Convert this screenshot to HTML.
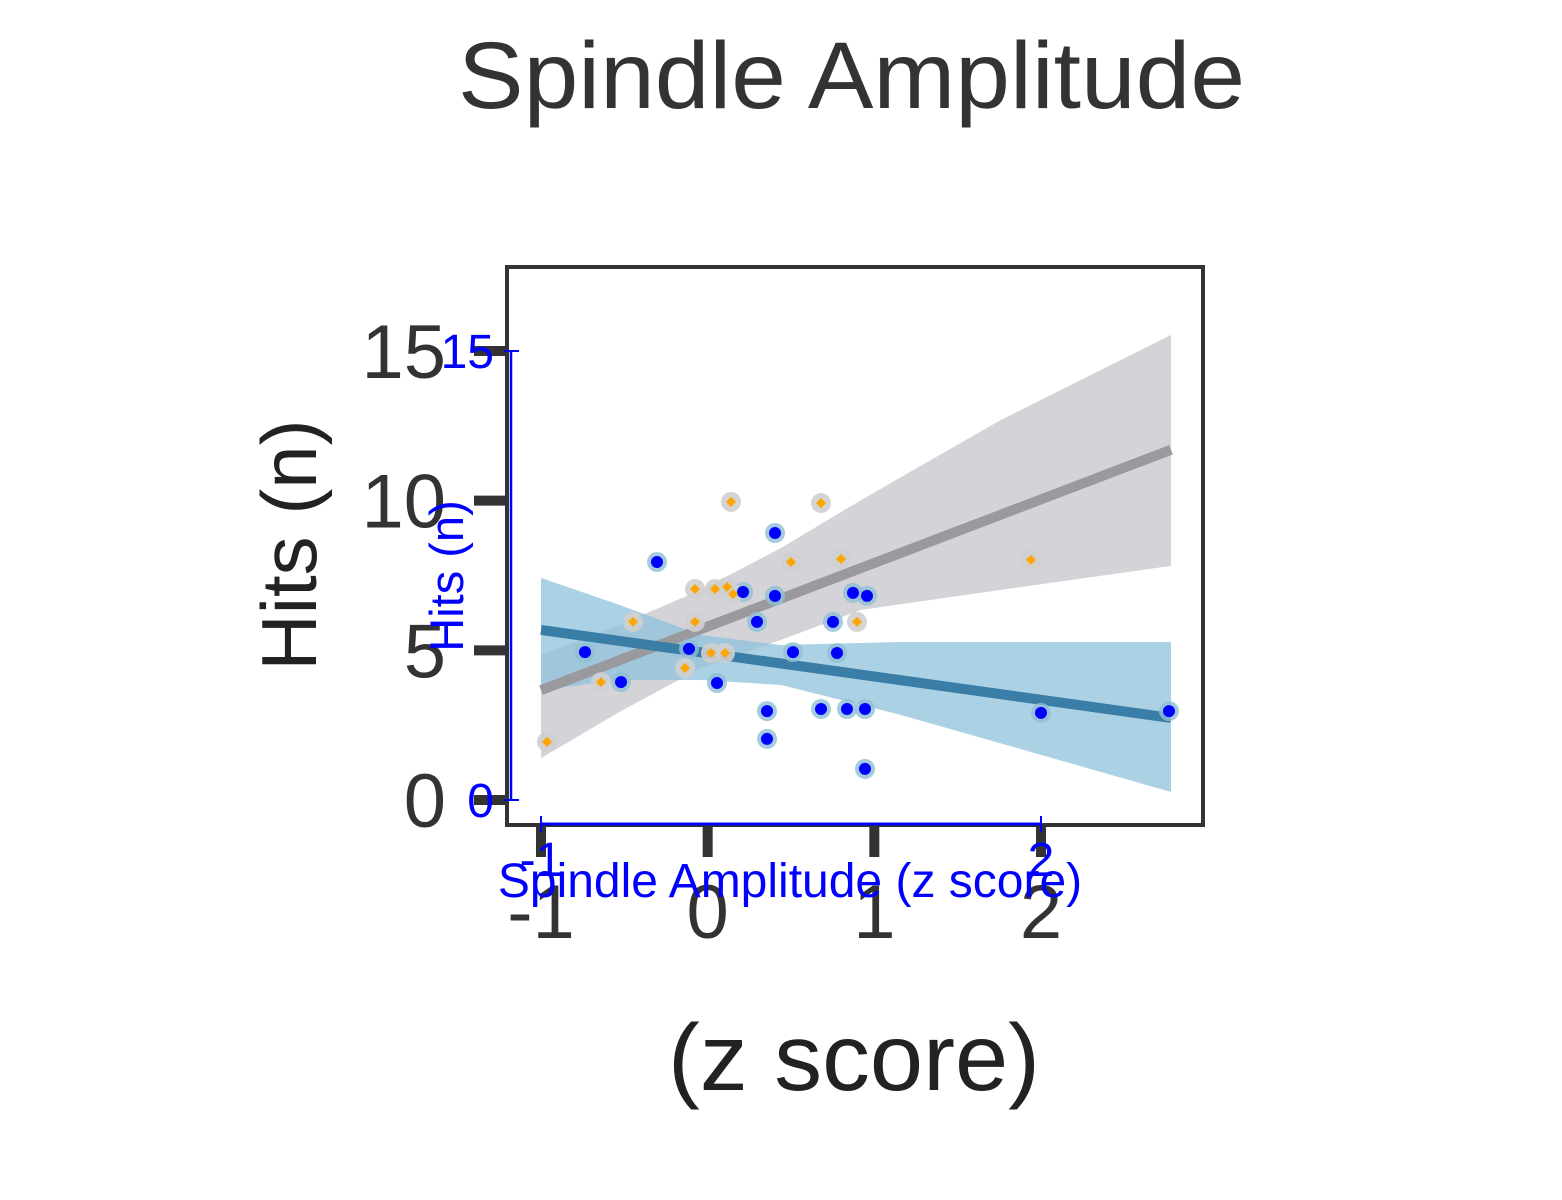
<!DOCTYPE html>
<html><head><meta charset="utf-8"><title>Spindle Amplitude</title>
<style>html,body{margin:0;padding:0;background:#fff;}svg{display:block;}</style></head>
<body>
<svg id="chart" width="1562" height="1200" viewBox="0 0 1562 1200" xmlns="http://www.w3.org/2000/svg" font-family="Liberation Sans, sans-serif">
  <rect width="1562" height="1200" fill="#fff"/>
  <text x="458" y="108" font-size="95" fill="#333" textLength="787" lengthAdjust="spacingAndGlyphs">Spindle Amplitude</text>
  <g id="bands"></g>
  <g id="lines"></g>
  <g id="halos"></g>
  <rect x="507" y="267" width="696" height="558" fill="none" stroke="#333" stroke-width="4"/>
  <g id="rasterAxes"></g>
  <text transform="translate(316,545) rotate(-90)" text-anchor="middle" font-size="78" fill="#222">Hits (n)</text>
  <text x="668" y="1090" font-size="95" fill="#222" textLength="372" lengthAdjust="spacingAndGlyphs">(z score)</text>
  <g id="overlay"></g>
  <g id="points"></g>
</svg>
<script>
const xTicks = [-1, 2];
const yTicks = [0, 15];
const rasterXTicks = [-1, 0, 1, 2];
const rasterYTicks = [0, 5, 10, 15];
const blueX = [-0.304,0.404,0.212,0.404,0.872,0.956,0.296,0.752,-0.736,-0.112,0.512,0.776,-0.52,0.056,0.356,0.68,0.836,0.944,0.356,0.944,2.0,2.768];
const blueY = [7.95,8.92,6.95,6.82,6.92,6.82,5.95,5.95,4.94,5.05,4.94,4.91,3.94,3.91,2.97,3.04,3.04,3.04,2.04,1.04,2.91,2.97];
const orangeX = [0.14,0.68,0.50,0.80,-0.076,0.044,0.116,0.152,-0.448,-0.076,0.896,0.02,0.104,-0.136,-0.64,-0.964,1.94];
const orangeY = [9.96,9.92,7.95,8.05,7.05,7.05,7.12,6.88,5.95,5.95,5.95,4.91,4.91,4.41,3.94,1.94,8.02];
const grayLineX = [-1, 2.78];
const grayLineY = [3.67, 11.7];
const blueLineX = [-1, 2.78];
const blueLineY = [5.68, 2.74];
const grayBandX = [-1, -0.53, -0.04, 0.44, 0.92, 1.76, 2.78];
const grayBandHi = [4.84, 5.85, 7.02, 8.42, 10.02, 12.7, 15.54];
const grayBandLo = [1.40, 2.94, 4.41, 5.35, 6.35, 7.02, 7.82];
const blueBandX = [-1, -0.53, -0.04, 0.44, 1.16, 2.78];
const blueBandHi = [7.42, 6.52, 5.51, 5.18, 5.28, 5.28];
const blueBandLo = [3.67, 4.01, 4.01, 3.84, 2.84, 0.27];

const NS = 'http://www.w3.org/2000/svg';
const X = v => 541 + (v + 1) * (500 / 3);
const Y = v => 800 - v * (449 / 15);
function mk(tag, parent, attrs) {
  const e = document.createElementNS(NS, tag);
  for (const k in attrs) e.setAttribute(k, attrs[k]);
  parent.appendChild(e);
  return e;
}
const bands = document.getElementById('bands');
let d = grayBandX.map((x,i)=>(i?'L':'M')+X(x)+','+Y(grayBandHi[i])).join('') +
  grayBandX.slice().reverse().map((x,i)=>'L'+X(x)+','+Y(grayBandLo[grayBandX.length-1-i])).join('')+'Z';
let p = mk('path', bands, {d, fill:'#cfced4', opacity:'0.9'});


d = blueBandX.map((x,i)=>(i?'L':'M')+X(x)+','+Y(blueBandHi[i])).join('') +
  blueBandX.slice().reverse().map((x,i)=>'L'+X(x)+','+Y(blueBandLo[blueBandX.length-1-i])).join('')+'Z';
p = mk('path', bands, {d, fill:'#8fc1dc', opacity:'0.75'});



const lines = document.getElementById('lines');
let l = mk('line', lines, {x1:X(grayLineX[0]), y1:Y(grayLineY[0]), x2:X(grayLineX[1]), y2:Y(grayLineY[1]), stroke:'#9a999e', 'stroke-width':10});


l = mk('line', lines, {x1:X(blueLineX[0]), y1:Y(blueLineY[0]), x2:X(blueLineX[1]), y2:Y(blueLineY[1]), stroke:'#3a7da6', 'stroke-width':10});



const halos = document.getElementById('halos');
blueX.forEach((x,i)=>{
  const c = mk('circle', halos, {cx:X(x), cy:Y(blueY[i]), r:10, fill:'#8fbfd6', opacity:'0.8'});
  
  
});
orangeX.forEach((x,i)=>{
  const c = mk('circle', halos, {cx:X(x), cy:Y(orangeY[i]), r:10, fill:'#cfcfcf', opacity:'0.9'});
  
  
});

const ra = document.getElementById('rasterAxes');
rasterYTicks.forEach(v=>{
  const t = mk('line', ra, {x1:474, x2:507, y1:Y(v), y2:Y(v), stroke:'#333', 'stroke-width':10});
  
  
  const tx = mk('text', ra, {x:446, y:Y(v)+27, 'text-anchor':'end', 'font-size':76, fill:'#333'});
  tx.textContent = String(v);
  
  
});
rasterXTicks.forEach(v=>{
  const t = mk('line', ra, {x1:X(v), x2:X(v), y1:825, y2:857, stroke:'#333', 'stroke-width':10});
  
  
  const tx = mk('text', ra, {x:X(v), y:938, 'text-anchor':'middle', 'font-size':76, fill:'#333'});
  tx.textContent = v < 0 ? '-' + Math.abs(v) : String(v);
  
  
});

const ov = document.getElementById('overlay');
let a = mk('line', ov, {x1:511, x2:511, y1:Y(15), y2:Y(0), stroke:'blue', 'stroke-width':2.5});


yTicks.forEach(v=>{
  const t = mk('line', ov, {x1:504, x2:519, y1:Y(v), y2:Y(v), stroke:'blue', 'stroke-width':2});
  
  
  const tx = mk('text', ov, {x:494, y:Y(v)+17, 'text-anchor':'end', 'font-size':48, fill:'blue'});
  tx.textContent = String(v);
  
  
});
a = mk('line', ov, {x1:X(-1), x2:X(2), y1:824, y2:824, stroke:'blue', 'stroke-width':3});


xTicks.forEach(v=>{
  const t = mk('line', ov, {x1:X(v), x2:X(v), y1:816, y2:832, stroke:'blue', 'stroke-width':2});
  
  
  const tx = mk('text', ov, {x:X(v), y:876, 'text-anchor':'middle', 'font-size':48, fill:'blue'});
  tx.textContent = v < 0 ? '-' + Math.abs(v) : String(v);
  
  
});
let tt = mk('text', ov, {x:790, y:897, 'text-anchor':'middle', 'font-size':48, fill:'blue'});
tt.textContent = 'Spindle Amplitude (z score)';


tt = mk('text', ov, {transform:'translate(463,576) rotate(-90)', 'text-anchor':'middle', 'font-size':47, fill:'blue'});
tt.textContent = 'Hits (n)';



const pts = document.getElementById('points');
blueX.forEach((x,i)=>{
  const c = mk('circle', pts, {cx:X(x), cy:Y(blueY[i]), r:6, fill:'blue'});
  
  
});
orangeX.forEach((x,i)=>{
  const cx = X(x), cy = Y(orangeY[i]);
  const pg = mk('polygon', pts, {points:`${cx},${cy-5} ${cx+5},${cy} ${cx},${cy+5} ${cx-5},${cy}`, fill:'orange'});
  
  
});
</script>
</body></html>
